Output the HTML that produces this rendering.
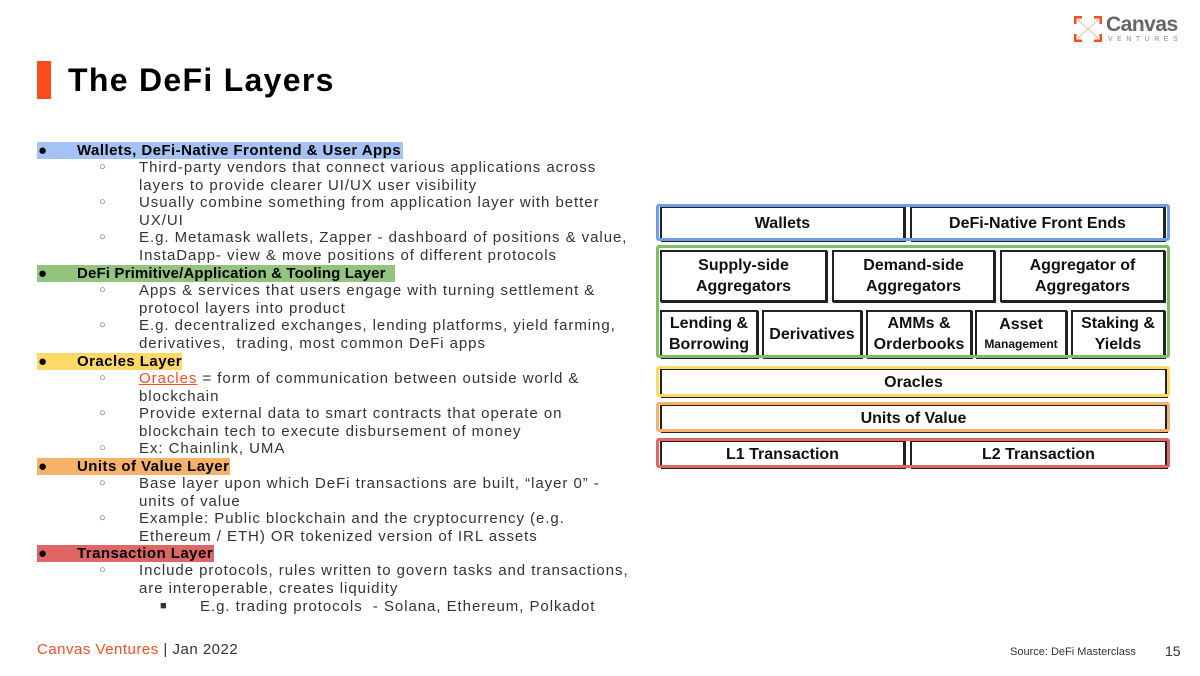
<!DOCTYPE html>
<html><head><meta charset="utf-8"><style>
body{margin:0;width:1200px;height:676px;background:#fff;position:relative;overflow:hidden;font-family:"Liberation Sans",sans-serif;color:#222}
.l{position:absolute;font-size:15px;letter-spacing:0.95px;line-height:17.5px;white-space:nowrap;color:#333}
.h{position:absolute;left:37px;height:17px;}
.b{font-weight:bold;color:#000;letter-spacing:0.45px}
.o{position:absolute;left:99px;font-size:11px;color:#555}
.box{position:absolute;box-sizing:border-box;border:2px solid #222;box-shadow:1px 1px 0 #222;display:flex;align-items:center;justify-content:center;text-align:center;font-weight:bold;font-size:16px;line-height:21px;color:#111;background:#fff}
.out{position:absolute;box-sizing:border-box;border:3px solid;border-radius:3px;left:656px;width:514px}
</style></head><body>
<div style="position:absolute;left:37px;top:61px;width:14px;height:38px;background:#fc4c1c"></div>
<div style="position:absolute;left:68px;top:60px;font-size:32px;letter-spacing:1.3px;font-weight:bold;color:#000;line-height:40px">The DeFi Layers</div>
<svg style="position:absolute;left:1074px;top:16px" width="28" height="26"><g stroke="#fc4c1c" stroke-width="3" fill="none"><path d="M1 8V1H8M20 1H27V8M27 18V25H20M8 25H1V18"/></g><path d="M4 4L24 22M24 4L4 22" stroke="#f7b8a8" stroke-width="1"/></svg>
<div style="position:absolute;left:1106px;top:13px;font-size:21px;font-weight:bold;color:#666;letter-spacing:-0.5px">Canvas</div>
<div style="position:absolute;left:1108px;top:36px;font-size:7px;color:#888;letter-spacing:4.5px">VENTURES</div>

<div class="h" style="top:142px;width:366px;background:#a4c2f4"></div>
<div class="h" style="top:265px;width:358px;background:#93c47d"></div>
<div class="h" style="top:353px;width:145px;background:#ffd966"></div>
<div class="h" style="top:458px;width:193px;background:#f6b26b"></div>
<div class="h" style="top:545px;width:177px;background:#e06666"></div>

<div class="l b" style="left:38px;top:142px">●</div><div class="l b" style="left:77px;top:142px">Wallets, DeFi-Native Frontend &amp; User Apps</div>
<div class="o" style="top:161px">○</div><div class="l" style="left:139px;top:159px">Third-party vendors that connect various applications across</div>
<div class="l" style="left:139px;top:177px">layers to provide clearer UI/UX user visibility</div>
<div class="o" style="top:196px">○</div><div class="l" style="left:139px;top:194px">Usually combine something from application layer with better</div>
<div class="l" style="left:139px;top:212px">UX/UI</div>
<div class="o" style="top:231px">○</div><div class="l" style="left:139px;top:229px">E.g. Metamask wallets, Zapper - dashboard of positions &amp; value,</div>
<div class="l" style="left:139px;top:247px">InstaDapp- view &amp; move positions of different protocols</div>
<div class="l b" style="left:38px;top:265px">●</div><div class="l b" style="left:77px;top:265px;letter-spacing:0.15px">DeFi Primitive/Application &amp; Tooling Layer</div>
<div class="o" style="top:284px">○</div><div class="l" style="left:139px;top:282px">Apps &amp; services that users engage with turning settlement &amp;</div>
<div class="l" style="left:139px;top:300px">protocol layers into product</div>
<div class="o" style="top:319px">○</div><div class="l" style="left:139px;top:317px">E.g. decentralized exchanges, lending platforms, yield farming,</div>
<div class="l" style="left:139px;top:335px">derivatives,&nbsp; trading, most common DeFi apps</div>
<div class="l b" style="left:38px;top:353px">●</div><div class="l b" style="left:77px;top:353px">Oracles Layer</div>
<div class="o" style="top:372px">○</div><div class="l" style="left:139px;top:370px"><span style="color:#fc4c1c;text-decoration:underline">Oracles</span> = form of communication between outside world &amp;</div>
<div class="l" style="left:139px;top:388px">blockchain</div>
<div class="o" style="top:407px">○</div><div class="l" style="left:139px;top:405px">Provide external data to smart contracts that operate on</div>
<div class="l" style="left:139px;top:423px">blockchain tech to execute disbursement of money</div>
<div class="o" style="top:442px">○</div><div class="l" style="left:139px;top:440px">Ex: Chainlink, UMA</div>
<div class="l b" style="left:38px;top:458px">●</div><div class="l b" style="left:77px;top:458px">Units of Value Layer</div>
<div class="o" style="top:477px">○</div><div class="l" style="left:139px;top:475px">Base layer upon which DeFi transactions are built, “layer 0” -</div>
<div class="l" style="left:139px;top:493px">units of value</div>
<div class="o" style="top:512px">○</div><div class="l" style="left:139px;top:510px">Example: Public blockchain and the cryptocurrency (e.g.</div>
<div class="l" style="left:139px;top:528px">Ethereum / ETH) OR tokenized version of IRL assets</div>
<div class="l b" style="left:38px;top:545px">●</div><div class="l b" style="left:77px;top:545px">Transaction Layer</div>
<div class="o" style="top:564px">○</div><div class="l" style="left:139px;top:562px">Include protocols, rules written to govern tasks and transactions,</div>
<div class="l" style="left:139px;top:580px">are interoperable, creates liquidity</div>
<div class="l" style="left:160px;top:598px;font-size:11px">■</div><div class="l" style="left:200px;top:598px">E.g. trading protocols&nbsp; - Solana, Ethereum, Polkadot</div>

<div class="box" style="left:660px;top:206px;width:245px;height:35px">Wallets</div>
<div class="box" style="left:910px;top:206px;width:255px;height:35px">DeFi-Native Front Ends</div>
<div class="out" style="top:204px;height:37px;border-color:#6d9eeb"></div>
<div class="box" style="left:660px;top:250px;width:167px;height:52px"><div>Supply-side<br>Aggregators</div></div>
<div class="box" style="left:832px;top:250px;width:163px;height:52px"><div>Demand-side<br>Aggregators</div></div>
<div class="box" style="left:1000px;top:250px;width:165px;height:52px"><div>Aggregator of<br>Aggregators</div></div>
<div class="box" style="left:660px;top:310px;width:98px;height:48px"><div>Lending &amp;<br>Borrowing</div></div>
<div class="box" style="left:762px;top:310px;width:100px;height:48px"><div>Derivatives</div></div>
<div class="box" style="left:866px;top:310px;width:106px;height:48px"><div>AMMs &amp;<br>Orderbooks</div></div>
<div class="box" style="left:975px;top:310px;width:92px;height:48px;line-height:19px"><div>Asset<br><span style="font-size:12px">Management</span></div></div>
<div class="box" style="left:1071px;top:310px;width:94px;height:48px"><div>Staking &amp;<br>Yields</div></div>
<div class="out" style="top:245px;height:113px;border-color:#7fbf63"></div>
<div class="box" style="left:660px;top:368px;width:507px;height:29px">Oracles</div>
<div class="out" style="top:366px;height:31px;border-color:#ffd966"></div>
<div class="box" style="left:660px;top:404px;width:507px;height:28px">Units of Value</div>
<div class="out" style="top:402px;height:30px;border-color:#f6b26b"></div>
<div class="box" style="left:660px;top:440px;width:245px;height:28px">L1 Transaction</div>
<div class="box" style="left:910px;top:440px;width:257px;height:28px">L2 Transaction</div>
<div class="out" style="top:438px;height:30px;border-color:#e06666"></div>

<div style="position:absolute;left:37px;top:641px;font-size:15px;letter-spacing:0.5px;color:#fc4c1c">Canvas Ventures <span style="color:#333">| Jan 2022</span></div>
<div style="position:absolute;left:1010px;top:646px;font-size:11px;color:#333">Source: DeFi Masterclass</div>
<div style="position:absolute;left:1165px;top:643px;font-size:14px;color:#333">15</div>
</body></html>
